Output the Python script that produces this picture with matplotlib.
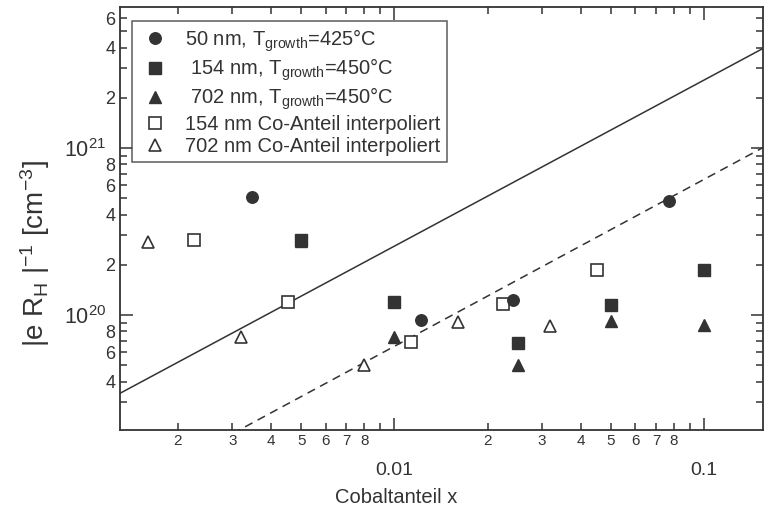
import matplotlib
matplotlib.use("Agg")
import matplotlib.pyplot as plt
from matplotlib.ticker import FixedLocator, FixedFormatter

plt.rcParams["font.family"] = ["Liberation Sans", "DejaVu Sans"]
plt.rcParams["mathtext.fontset"] = "custom"
plt.rcParams["mathtext.rm"] = "Liberation Sans"
plt.rcParams["mathtext.it"] = "Liberation Sans:italic"
plt.rcParams["mathtext.bf"] = "Liberation Sans:bold"

x_50nm = [0.00346, 0.0122, 0.0242, 0.077]
y_50nm = [5.1e20, 9.3e19, 1.23e20, 4.8e20]

x_154nm = [0.005, 0.01, 0.025, 0.05, 0.1]
y_154nm = [2.83e20, 1.2e20, 6.8e19, 1.15e20, 1.87e20]

x_702nm = [0.005, 0.01, 0.025, 0.05, 0.1]
y_702nm = [2.77e20, 7.4e19, 5.05e19, 9.2e19, 8.7e19]

x_154_interp = [0.00226, 0.00452, 0.01135, 0.0225, 0.0452]
y_154_interp = [2.83e20, 1.2e20, 6.9e19, 1.165e20, 1.87e20]

x_702_interp = [0.0016, 0.0032, 0.008, 0.016, 0.0319]
y_702_interp = [2.75e20, 7.4e19, 5.0e19, 9.1e19, 8.6e19]

# Geraden (Endpunkte)
line_x = [0.0013, 0.16]
solid_y = [3.4e19, 4.08e21]
dashed_y = [8.45e18, 1.04e21]

# Achsenbeschriftung
x_major = [0.01, 0.1]
x_major_labels = ["0.01", "0.1"]
x_minor = [m * d for d in (0.001, 0.01) for m in range(2, 10)]
x_minor_labels = ["2", "3", "4", "5", "6", "7", "8", ""] * 2
y_major = [1e20, 1e21]
y_major_labels = [r"$10^{20}$", r"$10^{21}$"]
y_minor = [m * d for d in (1e19, 1e20) for m in range(2, 10)] + [2e21, 3e21, 4e21, 5e21, 6e21]
y_minor_labels = ["2", "", "4", "", "6", "", "8", ""] * 2 + ["2", "", "4", "", "6"]

col = "#333333"

fig = plt.figure(figsize=(7.65, 5.14), dpi=100)
ax = fig.add_axes([120 / 765, 1 - 430 / 514, 643 / 765, 423 / 514])

ax.plot(line_x, solid_y, color=col, lw=1.1)
ax.plot(line_x, dashed_y, color=col, lw=1.1, dashes=(5.5, 3.8))

ms = 8.3
ax.plot(x_50nm, y_50nm, "o", color=col, ms=ms, label="50 nm, T$_\\mathrm{growth}$=425°C", zorder=4)
ax.plot(x_154nm, y_154nm, "s", color=col, ms=ms, label=" 154 nm, T$_\\mathrm{growth}$=450°C", zorder=4)
ax.plot(x_702nm, y_702nm, "^", color=col, ms=ms, label=" 702 nm, T$_\\mathrm{growth}$=450°C", zorder=3)
ax.plot(x_154_interp, y_154_interp, "s", mfc="white", mec=col, mew=1.2, ms=ms - 0.3,
        label="154 nm Co-Anteil interpoliert", zorder=3)
ax.plot(x_702_interp, y_702_interp, "^", mfc="white", mec=col, mew=1.2, ms=ms - 0.3,
        label="702 nm Co-Anteil interpoliert", zorder=3)

ax.set_xscale("log")
ax.set_yscale("log")
ax.set_xlim(0.0013, 0.155)
ax.set_ylim(2.05e19, 7e21)

ax.xaxis.set_major_locator(FixedLocator(x_major))
ax.xaxis.set_major_formatter(FixedFormatter(x_major_labels))
ax.xaxis.set_minor_locator(FixedLocator(x_minor))
ax.xaxis.set_minor_formatter(FixedFormatter(x_minor_labels))
ax.yaxis.set_major_locator(FixedLocator(y_major))
ax.yaxis.set_major_formatter(FixedFormatter(y_major_labels))
ax.yaxis.set_minor_locator(FixedLocator(y_minor))
ax.yaxis.set_minor_formatter(FixedFormatter(y_minor_labels))

ax.tick_params(which="both", direction="in", top=True, right=True, color=col,
               labelcolor=col, width=1.1)
ax.tick_params(which="major", length=9)
ax.tick_params(which="minor", length=5)
ax.tick_params(axis="x", which="major", labelsize=14, pad=23)
ax.tick_params(axis="x", which="minor", labelsize=11, pad=3)
ax.tick_params(axis="y", which="major", labelsize=15.5, pad=10)
ax.tick_params(axis="y", which="minor", labelsize=13, pad=3.5)
for s in ax.spines.values():
    s.set_color(col)
    s.set_linewidth(1.3)

ax.set_xlabel("Cobaltanteil x", fontsize=14.5, color=col)
ax.xaxis.set_label_coords((396 - 120) / 643, -(488 - 430) / 423)
ax.set_ylabel("|e R$_\\mathrm{H}$ |$^{-1}$ [cm$^{-3}$]", fontsize=20, color=col)
ax.yaxis.set_label_coords((52 - 120) / 643, 1 - (254 - 7) / 423)

leg = ax.legend(loc="upper left", bbox_to_anchor=((132 - 120) / 643, 1 - (21 - 7) / 423),
                fontsize=14.5, frameon=True, fancybox=False, edgecolor=col,
                handlelength=1.7, handletextpad=0.65, borderpad=0.3, labelspacing=0.14,
                borderaxespad=0, labelcolor=col)
leg.get_frame().set_linewidth(1.1)

fig.savefig("out.png", dpi=100)
